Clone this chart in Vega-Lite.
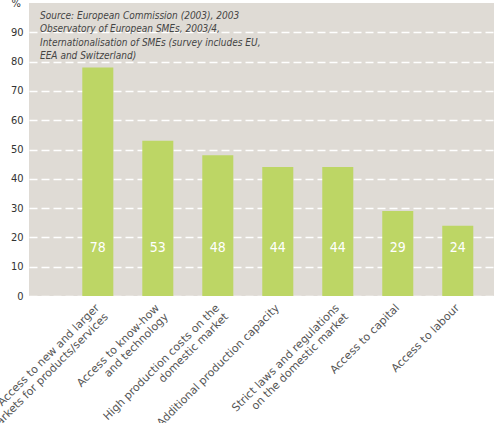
{
  "$schema": "https://vega.github.io/schema/vega-lite/v6.json",
  "width": 465,
  "height": 293,
  "autosize": "none",
  "padding": {"left": 29, "top": 3, "right": 0, "bottom": 127},
  "background": "white",
  "config": {
    "view": {"fill": "#dfdbd5", "stroke": null},
    "font": "DejaVu Sans"
  },
  "title": {
    "text": ["Source: European Commission (2003), 2003", "Observatory of European SMEs, 2003/4,", "Internationalisation of SMEs (survey includes EU,", "EEA and Switzerland)"],
    "anchor": "start",
    "frame": "group",
    "orient": "top",
    "baseline": "top",
    "offset": 0,
    "dx": 11,
    "dy": 64,
    "font": "DejaVu Sans Condensed",
    "fontStyle": "italic",
    "fontWeight": "normal",
    "fontSize": 10,
    "lineHeight": 13.5,
    "color": "#444"
  },
  "data": {
    "values": [
      {"reason": "Access to new and larger|markets for products/services", "pct": 78},
      {"reason": "Access to know-how|and technology", "pct": 53},
      {"reason": "High production costs on the|domestic market", "pct": 48},
      {"reason": "Additional production capacity", "pct": 44},
      {"reason": "Strict laws and regulations|on the domestic market", "pct": 44},
      {"reason": "Access to capital", "pct": 29},
      {"reason": "Access to labour", "pct": 24}
    ]
  },
  "encoding": {
    "x": {
      "field": "reason",
      "type": "nominal",
      "sort": null,
      "scale": {"paddingInner": 0.483, "paddingOuter": 0.617, "align": 0.72},
      "axis": {
        "title": null,
        "labelExpr": "split(datum.label, '|')",
        "labelAngle": -45,
        "labelAlign": "right",
        "labelBaseline": "middle",
        "labelFont": "DejaVu Sans",
        "labelFontSize": 11,
        "labelColor": "#555",
        "labelLineHeight": 12.5,
        "labelPadding": 10,
        "labelOverlap": false,
        "ticks": false,
        "domain": false,
        "labelLimit": 300
      }
    }
  },
  "layer": [
    {
      "mark": {"type": "bar", "color": "#bdd665"},
      "encoding": {
        "y": {
          "field": "pct",
          "type": "quantitative",
          "scale": {"domain": [0, 100]},
          "axis": {
            "values": [0, 10, 20, 30, 40, 50, 60, 70, 80, 90],
            "tickCount": 10,
            "labelOverlap": false,
            "title": "%",
            "titleAngle": 0,
            "titleAlign": "left",
            "titleBaseline": "middle",
            "titleX": -18,
            "titleY": 0,
            "titleFont": "DejaVu Sans Condensed",
            "titleFontWeight": "normal",
            "titleFontSize": 11,
            "titleColor": "#333",
            "labelFont": "DejaVu Sans Condensed",
            "labelFontSize": 11,
            "labelColor": "#333",
            "labelPadding": 6,
            "ticks": false,
            "domain": false,
            "grid": true,
            "gridColor": "white",
            "gridDash": [8, 4],
            "gridWidth": 1.5,
            "gridOpacity": 1,
            "zindex": 0
          }
        }
      }
    },
    {
      "mark": {"type": "text", "color": "white", "font": "DejaVu Sans Condensed", "fontSize": 14, "baseline": "middle", "align": "center"},
      "encoding": {
        "y": {"datum": 16.4, "type": "quantitative"},
        "text": {"field": "pct", "type": "quantitative"}
      }
    }
  ]
}
